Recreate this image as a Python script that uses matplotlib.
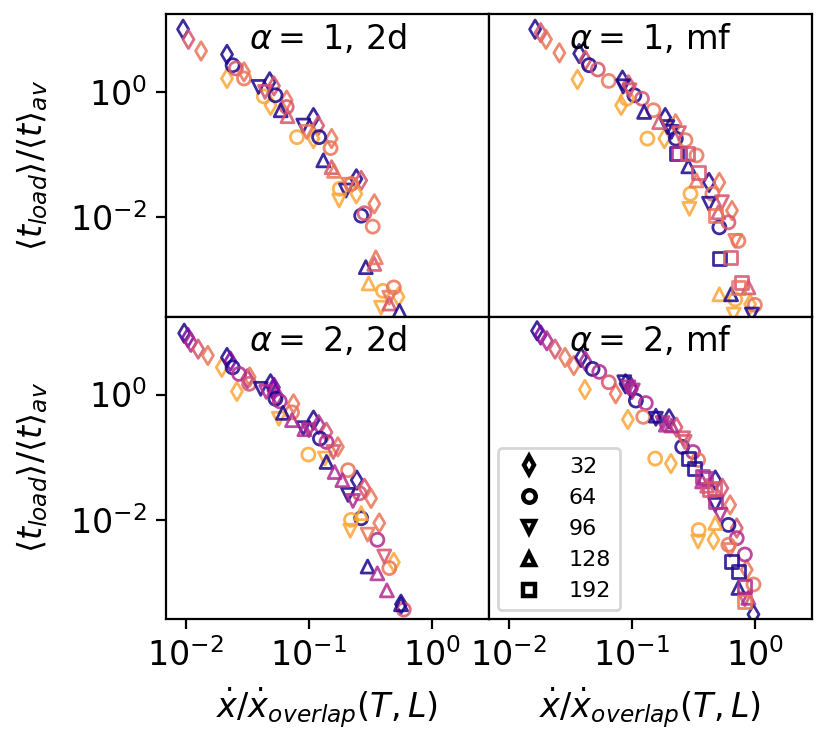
import matplotlib
matplotlib.use("Agg")
import matplotlib.pyplot as plt
from matplotlib.lines import Line2D
from matplotlib.ticker import NullLocator

# system sizes L -> marker, temperatures T -> colour (plasma)
sizes = [32, 64, 96, 128, 192]
markers = ['d', 'o', 'v', '^', 's']
t_shades = [0.02, 0.25, 0.4, 0.55, 0.65, 0.8]

titles = [r'$\alpha=$ 1, 2d', r'$\alpha=$ 1, mf', r'$\alpha=$ 2, 2d', r'$\alpha=$ 2, mf']

# alpha = 1, 2d
tl_x = [0.0095, 0.0105, 0.0133, 0.0216, 0.0216, 0.0297, 0.048, 0.052, 0.0488, 0.066, 0.109, 0.119, 0.153, 0.109,
        0.243, 0.266, 0.243, 0.34, 0.535,
        0.024, 0.0255, 0.0297, 0.043, 0.0535, 0.066, 0.08, 0.121, 0.15, 0.178, 0.221, 0.266, 0.283, 0.33, 0.40, 0.49,
        0.039, 0.044, 0.090, 0.096, 0.20, 0.176, 0.21, 0.386, 0.45,
        0.059, 0.067, 0.131, 0.153, 0.16, 0.29, 0.34, 0.35, 0.306, 0.45, 0.545]
tl_y = [10, 6.9, 4.5, 3.97, 1.64, 2.09, 1.45, 1.25, 0.61, 0.74, 0.39, 0.29, 0.18, 0.18,
        0.041, 0.0387, 0.0237, 0.0164, 5.4e-4,
        2.67, 2.37, 1.64, 0.85, 0.885, 0.575, 0.19, 0.19, 0.127, 0.0285, 0.034, 0.0106, 0.0116, 0.0071, 6.7e-4, 7.6e-4,
        1.2, 1.0, 0.29, 0.23, 0.0267, 0.0185, 0.033, 3.6e-4, 5.2e-4,
        0.51, 0.41, 0.081, 0.063, 0.055, 0.0016, 0.0018, 0.0023, 8.8e-4, 4.2e-4, 3.2e-4]
tl_L = [0] * 19 + [1] * 16 + [2] * 9 + [3] * 11
tl_T = [0, 3, 4, 0, 5, 4, 0, 3, 5, 4, 0, 3, 4, 5, 0, 3, 5, 4, 5,
        0, 3, 4, 5, 0, 3, 5, 0, 4, 5, 4, 0, 3, 4, 5, 4,
        0, 3, 0, 4, 0, 5, 4, 5, 4,
        0, 3, 0, 3, 4, 0, 3, 4, 5, 3, 0]

# alpha = 1, mf
tr_x = [0.0164, 0.0182, 0.0201, 0.0258, 0.0374, 0.042, 0.0362, 0.084, 0.094, 0.082, 0.187, 0.227, 0.184, 0.424, 0.515,
        0.652, 0.915,
        0.045, 0.053, 0.065, 0.105, 0.121, 0.091, 0.150, 0.134, 0.228, 0.273, 0.336, 0.30, 0.452, 0.515, 0.61, 0.735,
        0.694, 1.0,
        0.085, 0.096, 0.195, 0.21, 0.242, 0.294, 0.424, 0.541, 0.694, 0.672, 0.946,
        0.126, 0.167, 0.288, 0.336, 0.505, 0.515, 0.641, 0.888,
        0.232, 0.242, 0.284, 0.347, 0.478, 0.515, 0.63, 0.778, 0.735]
tr_y = [10, 8.8, 6.9, 4.2, 4.1, 3.2, 1.58, 1.54, 1.3, 0.61, 0.39, 0.31, 0.18, 0.036, 0.036,
        0.0128, 4.1e-4,
        2.67, 2.28, 1.5, 0.885, 0.78, 0.78, 0.51, 0.18, 0.18, 0.17, 0.097, 0.0237, 0.0237, 0.0069, 0.0083, 0.0042,
        4.9e-4, 4.0e-4,
        1.23, 1.06, 0.275, 0.23, 0.22, 0.0136, 0.0164, 0.0174, 0.0042, 2.8e-4, 2.8e-4,
        0.48, 0.33, 0.065, 0.0387, 0.012, 5.9e-4, 5.9e-4, 7.6e-4,
        0.103, 0.103, 0.103, 0.052, 0.0106, 0.0022, 0.0023, 9.1e-4, 7.6e-4]
tr_L = [0] * 17 + [1] * 18 + [2] * 11 + [3] * 8 + [4] * 9
tr_T = [0, 3, 4, 4, 0, 3, 5, 0, 3, 5, 0, 4, 5, 0, 4, 4, 5,
        0, 3, 4, 0, 3, 5, 4, 5, 0, 4, 4, 5, 4, 0, 3, 4, 5, 4,
        0, 3, 0, 0, 3, 5, 0, 3, 4, 5, 0,
        0, 3, 0, 4, 3, 5, 0, 3,
        0, 2, 3, 3, 4, 0, 3, 3, 4]

# alpha = 2, 2d
bl_x = [0.0097, 0.0104, 0.011, 0.0126, 0.0151, 0.0196, 0.026, 0.0216, 0.023, 0.0316, 0.033, 0.0488, 0.052, 0.055,
        0.075, 0.109, 0.12, 0.139, 0.172, 0.245, 0.283, 0.32, 0.373, 0.49, 0.56, 0.0515,
        0.024, 0.0271, 0.0327, 0.0535, 0.058, 0.073, 0.099, 0.123, 0.139, 0.208, 0.258, 0.266, 0.22, 0.36, 0.45, 0.59,
        0.0406, 0.045, 0.057, 0.090, 0.10, 0.135, 0.208, 0.228, 0.217, 0.30, 0.41, 0.158,
        0.0616, 0.073, 0.092, 0.139, 0.162, 0.187, 0.266, 0.30, 0.36, 0.43, 0.56]
bl_y = [9.5, 8.1, 6.8, 5.3, 4.2, 2.71, 1.12, 3.9, 3.4, 1.78, 1.9, 1.48, 1.3, 0.96,
        0.71, 0.39, 0.33, 0.25, 0.146, 0.043, 0.032, 0.022, 0.0089, 0.0021, 4.5e-4, 1.16,
        2.71, 2.13, 1.48, 0.855, 0.78, 0.52, 0.11, 0.198, 0.175, 0.062, 0.0265, 0.0106, 0.010, 0.0048, 0.0017, 3.7e-4,
        1.23, 1.1, 0.41, 0.29, 0.27, 0.095, 0.025, 0.02, 0.0067, 0.0058, 0.0026, 0.121,
        0.51, 0.39, 0.28, 0.084, 0.058, 0.043, 0.0128, 0.0018, 0.0014, 7.5e-4, 4.5e-4]
bl_L = [0] * 26 + [1] * 16 + [2] * 12 + [3] * 11
bl_T = [0, 1, 2, 3, 4, 5, 5, 0, 1, 2, 4, 0, 1, 2, 4, 0, 2, 3, 4, 0, 3, 4, 4, 5, 0, 1,
        0, 2, 3, 0, 2, 4, 5, 0, 2, 4, 3, 0, 5, 2, 4, 3,
        0, 2, 5, 0, 2, 5, 0, 2, 5, 4, 3, 3,
        0, 2, 2, 0, 2, 2, 5, 0, 2, 2, 0]

# alpha = 2, mf
br_x = [0.017, 0.0182, 0.0204, 0.0238, 0.0287, 0.0338, 0.0416, 0.0388, 0.042, 0.089, 0.1, 0.074, 0.093, 0.201,
        0.231, 0.208, 0.477, 0.545, 0.63, 0.461, 0.713, 0.86, 0.975, 0.099,
        0.048, 0.0545, 0.065, 0.108, 0.13, 0.124, 0.155, 0.257, 0.315, 0.346, 0.61, 0.713, 0.35, 0.61, 0.83, 0.975,
        0.087, 0.094, 0.157, 0.178, 0.262, 0.477, 0.524, 0.346, 0.63, 0.83, 0.102, 0.269,
        0.157, 0.189, 0.477, 0.373, 0.409, 0.735, 0.886, 0.21,
        0.291, 0.325, 0.377, 0.43, 0.477, 0.65, 0.735, 0.83, 0.83, 0.40, 0.47]
br_y = [10.4, 8.9, 7.2, 5.3, 3.9, 2.9, 1.2, 3.9, 3.4, 1.48, 1.2, 1.03, 0.40, 0.41,
        0.3, 0.079, 0.043, 0.032, 0.0173, 0.0048, 0.0074, 0.0016, 3.1e-4, 1.3,
        2.56, 2.3, 1.57, 0.80, 0.73, 0.44, 0.095, 0.146, 0.121, 0.09, 0.0083, 0.0051, 0.0069, 0.004, 0.0028, 9.3e-4,
        1.57, 1.3, 0.41, 0.35, 0.2, 0.0173, 0.012, 0.0045, 0.0033, 5.4e-4, 1.16, 0.175,
        0.46, 0.33, 0.0089, 0.041, 0.035, 8.2e-4, 5.7e-4, 0.32,
        0.095, 0.066, 0.05, 0.03, 0.0195, 0.0022, 0.0015, 5.0e-4, 8.5e-4, 0.046, 0.032]
br_L = [0] * 24 + [1] * 16 + [2] * 12 + [3] * 8 + [4] * 11
br_T = [0, 1, 2, 3, 4, 4, 5, 0, 2, 0, 2, 4, 5, 0, 3, 5, 0, 3, 4, 5, 3, 4, 0, 1,
        0, 2, 3, 0, 2, 4, 5, 0, 2, 4, 0, 2, 5, 4, 2, 4,
        0, 2, 0, 2, 3, 0, 2, 5, 4, 3, 2, 3,
        0, 2, 5, 2, 3, 0, 2, 2,
        0, 0, 2, 3, 2, 0, 0, 4, 2, 2, 3]

panels = [(tl_x, tl_y, tl_L, tl_T), (tr_x, tr_y, tr_L, tr_T),
          (bl_x, bl_y, bl_L, bl_T), (br_x, br_y, br_L, br_T)]

cmap = plt.get_cmap('plasma')

fig, axes = plt.subplots(2, 2, figsize=(4.15, 3.69), dpi=200, sharex=True, sharey=True)
fig.subplots_adjust(left=0.2, right=0.978, bottom=0.161, top=0.981, wspace=0, hspace=0)

for ax, (xs, ys, ls, ts), title in zip(axes.flat, panels, titles):
    for x, y, l, t in zip(xs, ys, ls, ts):
        ax.scatter(x, y, s=22, marker=markers[l], facecolors='none',
                   edgecolors=[cmap(t_shades[t])], linewidths=1.0, alpha=0.85)
    ax.set_xscale('log')
    ax.set_yscale('log')
    ax.text(0.5, 0.975, title, transform=ax.transAxes, ha='center', va='top', fontsize=12)

ax = axes[0, 0]
ax.set_xlim(0.0069, 2.9)
ax.set_ylim(2.6e-4, 17.5)
ax.set_xticks([1e-2, 1e-1, 1e0])
ax.set_yticks([1e-2, 1e0])
for ax in axes.flat:
    ax.xaxis.set_minor_locator(NullLocator())
    ax.yaxis.set_minor_locator(NullLocator())
    ax.tick_params(labelsize=12)
for ax in axes[0, :]:
    ax.tick_params(axis='x', bottom=False)
for ax in axes[:, 1]:
    ax.tick_params(axis='y', left=False)

for ax in axes[:, 0]:
    ax.set_ylabel(r'$\langle t_{load}\rangle/\langle t\rangle_{av}$', fontsize=12, labelpad=7)
for ax in axes[1, :]:
    ax.set_xlabel(r'$\dot{x}/\dot{x}_{overlap}(T,L)$', fontsize=12)

handles = [Line2D([], [], linestyle='none', marker=m, markersize=4.5, markerfacecolor='none',
                  markeredgecolor='k', markeredgewidth=1.6) for m in markers]
axes[1, 1].legend(handles, [str(s) for s in sizes], loc='lower left', fontsize=8,
                  borderaxespad=0.4)

fig.savefig('out.png', dpi=200)
